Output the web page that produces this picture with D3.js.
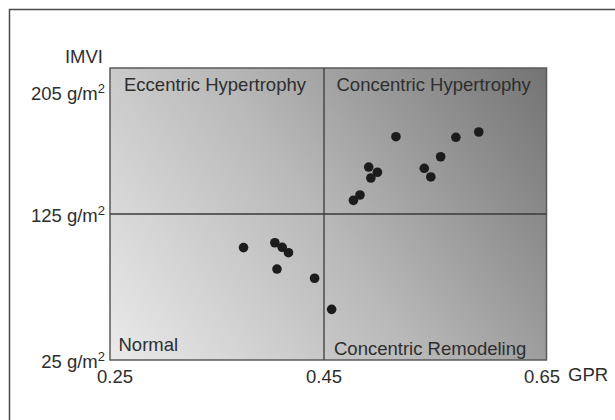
<!DOCTYPE html>
<html>
<head>
<meta charset="utf-8">
<script src="https://cdn.jsdelivr.net/npm/d3@7"></script>
<style>
  html, body { margin: 0; padding: 0; background: #ffffff; }
  svg { display: block; }
  text { font-family: "Liberation Sans", Arial, sans-serif; fill: #2e2e2e; }
</style>
</head>
<body>
<svg id="chart" width="615" height="420"></svg>
<script>
// ---- data ----
const gpr  = [0.373, 0.403, 0.410, 0.416, 0.405, 0.441, 0.457,
              0.516, 0.571, 0.592, 0.557, 0.491, 0.499, 0.493, 0.542, 0.548, 0.483, 0.477];
const imvi = [102.0, 105.3, 102.2, 98.5, 87.3, 81.0, 59.7,
              175.9, 175.5, 179.0, 162.7, 155.9, 152.5, 148.7, 155.1, 149.4, 137.5, 134.0];
const xTicks = [0.25, 0.45, 0.65];
const yTicks = [25, 125, 205];
const xThreshold = 0.45;
const yThreshold = 125;
const quadrantLabels = ["Eccentric Hypertrophy", "Concentric Hypertrophy", "Normal", "Concentric Remodeling"];
const xTitle = "GPR";
const yTitle = "IMVI";

// ---- layout ----
const svg = d3.select("#chart");
const x = d3.scaleLinear().domain(xTicks).range([115, 324, 542]);
const y = d3.scaleLinear().domain(yTicks).range([360, 214, 92.5]);

const plotL = x(0.25) - 5, plotR = x(0.65) + 4.5;
const plotT = 68, plotB = y(25);

// outer frame (extends past the picture on right and bottom)
svg.append("rect")
  .attr("x", 9.5).attr("y", 9.5).attr("width", 700).attr("height", 600)
  .attr("fill", "none").attr("stroke", "#4a4a4a").attr("stroke-width", 1.5);

// gradient background
const defs = svg.append("defs");
const grad = defs.append("linearGradient")
  .attr("id", "bg").attr("gradientUnits", "userSpaceOnUse")
  .attr("x1", plotL).attr("y1", plotB).attr("x2", 573).attr("y2", 42);
grad.append("stop").attr("offset", 0).attr("stop-color", "#eaeaea");
grad.append("stop").attr("offset", 0.45).attr("stop-color", "#b9b9b9");
grad.append("stop").attr("offset", 1).attr("stop-color", "#6a6a6a");

svg.append("rect")
  .attr("x", plotL).attr("y", plotT)
  .attr("width", plotR - plotL).attr("height", plotB - plotT)
  .attr("fill", "url(#bg)").attr("stroke", "#5a5a5a").attr("stroke-width", 1.5);

// threshold lines
svg.append("line")
  .attr("x1", x(xThreshold)).attr("x2", x(xThreshold))
  .attr("y1", plotT).attr("y2", plotB)
  .attr("stroke", "#3a3a3a").attr("stroke-width", 1.3);
svg.append("line")
  .attr("x1", plotL).attr("x2", plotR)
  .attr("y1", y(yThreshold)).attr("y2", y(yThreshold))
  .attr("stroke", "#3a3a3a").attr("stroke-width", 1.3);

// quadrant labels
const fs = 18.5;
const qPos = [
  {x: plotL + 14, y: 90.5},
  {x: x(xThreshold) + 12.5, y: 90.5},
  {x: plotL + 8.5, y: 351},
  {x: x(xThreshold) + 10, y: 355}
];
svg.selectAll("text.q").data(quadrantLabels).join("text")
  .attr("class", "q")
  .attr("x", (d, i) => qPos[i].x).attr("y", (d, i) => qPos[i].y)
  .attr("font-size", fs).attr("fill", "#333")
  .text(d => d);

// points
const pts = gpr.map((g, i) => ({g, v: imvi[i]}));
svg.selectAll("circle.pt").data(pts).join("circle")
  .attr("class", "pt")
  .attr("cx", d => x(d.g)).attr("cy", d => y(d.v))
  .attr("r", 4.8).attr("fill", "#1c1c1c");

// x tick labels
svg.selectAll("text.xt").data(xTicks).join("text")
  .attr("class", "xt")
  .attr("x", d => x(d)).attr("y", 383)
  .attr("text-anchor", "middle").attr("font-size", fs)
  .text(d => d3.format(".2f")(d));

// x title
svg.append("text").attr("x", 568).attr("y", 381)
  .attr("font-size", fs).text(xTitle);

// y tick labels with superscript
const yt = svg.selectAll("text.yt").data(yTicks).join("text")
  .attr("class", "yt")
  .attr("x", 105).attr("y", d => y(d) + 7.5)
  .attr("text-anchor", "end").attr("font-size", fs);
yt.append("tspan").text(d => d + " g/m");
yt.append("tspan").attr("font-size", 13).attr("dy", -7).text("2");

// y title
svg.append("text").attr("x", 103).attr("y", 63)
  .attr("text-anchor", "end").attr("font-size", fs).text(yTitle);
</script>
</body>
</html>
